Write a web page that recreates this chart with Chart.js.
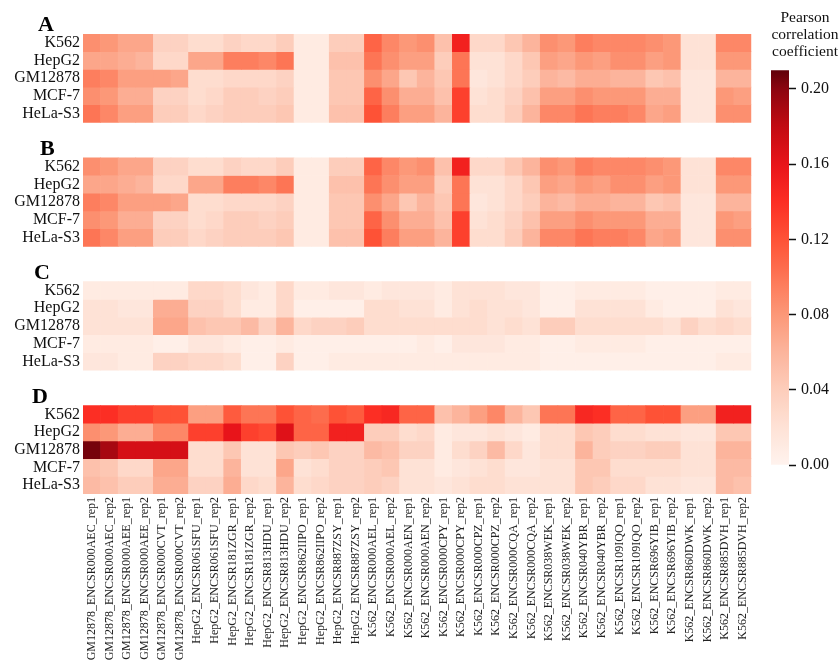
<!DOCTYPE html>
<html>
<head>
<meta charset="utf-8">
<script src="https://cdn.jsdelivr.net/npm/chart.js@4.4.1/dist/chart.umd.min.js"></script>
<style>
  html, body { margin: 0; padding: 0; background: #fff; width: 839px; height: 666px; overflow: hidden; }
  #heat { position: absolute; left: 0; top: 0; }
  #bar { position: absolute; left: 762px; top: 0; }
</style>
</head>
<body>
<canvas id="heat" width="760" height="666"></canvas>
<canvas id="bar" width="77" height="490"></canvas>
<script>
// ---- data ----
const columnLabels = [
  'GM12878_ENCSR000AEC_rep1', 'GM12878_ENCSR000AEC_rep2',
  'GM12878_ENCSR000AEE_rep1', 'GM12878_ENCSR000AEE_rep2',
  'GM12878_ENCSR000CVT_rep1', 'GM12878_ENCSR000CVT_rep2',
  'HepG2_ENCSR061SFU_rep1', 'HepG2_ENCSR061SFU_rep2',
  'HepG2_ENCSR181ZGR_rep1', 'HepG2_ENCSR181ZGR_rep2',
  'HepG2_ENCSR813HDU_rep1', 'HepG2_ENCSR813HDU_rep2',
  'HepG2_ENCSR862IIPO_rep1', 'HepG2_ENCSR862IIPO_rep2',
  'HepG2_ENCSR887ZSY_rep1', 'HepG2_ENCSR887ZSY_rep2',
  'K562_ENCSR000AEL_rep1', 'K562_ENCSR000AEL_rep2',
  'K562_ENCSR000AEN_rep1', 'K562_ENCSR000AEN_rep2',
  'K562_ENCSR000CPY_rep1', 'K562_ENCSR000CPY_rep2',
  'K562_ENCSR000CPZ_rep1', 'K562_ENCSR000CPZ_rep2',
  'K562_ENCSR000CQA_rep1', 'K562_ENCSR000CQA_rep2',
  'K562_ENCSR038WEK_rep1', 'K562_ENCSR038WEK_rep2',
  'K562_ENCSR040YBR_rep1', 'K562_ENCSR040YBR_rep2',
  'K562_ENCSR109IQO_rep1', 'K562_ENCSR109IQO_rep2',
  'K562_ENCSR696YIB_rep1', 'K562_ENCSR696YIB_rep2',
  'K562_ENCSR860DWK_rep1', 'K562_ENCSR860DWK_rep2',
  'K562_ENCSR885DVH_rep1', 'K562_ENCSR885DVH_rep2'
];
const rowLabels = ['K562', 'HepG2', 'GM12878', 'MCF-7', 'HeLa-S3'];
const panelLetters = ['A', 'B', 'C', 'D'];

// Pearson correlation per cell line (rows) and experiment (columns)
const panelA = [
  [.085,.08,.07,.07,.035,.035,.025,.025,.035,.03,.03,.04,.01,.01,.04,.04,.11,.09,.08,.085,.05,.15,.03,.03,.045,.06,.085,.08,.095,.09,.09,.09,.085,.08,.02,.02,.09,.09],
  [.07,.07,.065,.06,.03,.03,.07,.07,.095,.095,.09,.1,.01,.01,.05,.05,.1,.085,.075,.075,.04,.1,.02,.02,.03,.045,.075,.07,.08,.075,.085,.085,.075,.08,.02,.02,.08,.08],
  [.095,.09,.075,.075,.075,.07,.025,.025,.03,.03,.03,.035,.01,.01,.045,.045,.085,.07,.045,.06,.045,.1,.015,.02,.03,.04,.06,.055,.065,.065,.06,.06,.045,.05,.015,.015,.06,.06],
  [.085,.08,.065,.065,.035,.035,.025,.03,.04,.04,.035,.04,.01,.01,.045,.045,.11,.085,.065,.065,.05,.13,.02,.025,.035,.05,.075,.075,.085,.08,.08,.08,.065,.065,.015,.015,.08,.075],
  [.1,.09,.075,.075,.04,.04,.03,.035,.04,.04,.04,.045,.01,.01,.05,.05,.12,.095,.075,.075,.06,.13,.025,.025,.04,.06,.09,.09,.1,.095,.095,.09,.07,.075,.015,.015,.085,.085]
];
const panelB = [
  [.085,.08,.07,.07,.035,.035,.025,.025,.035,.03,.03,.04,.01,.01,.04,.04,.11,.09,.08,.085,.05,.15,.03,.03,.045,.06,.085,.08,.095,.09,.09,.09,.085,.08,.02,.02,.09,.09],
  [.07,.07,.065,.06,.03,.03,.07,.07,.095,.095,.09,.1,.01,.01,.05,.05,.1,.085,.075,.075,.04,.1,.02,.02,.03,.045,.075,.07,.08,.075,.085,.085,.075,.08,.02,.02,.08,.08],
  [.095,.09,.075,.075,.075,.07,.025,.025,.03,.03,.03,.035,.01,.01,.045,.045,.085,.07,.045,.06,.045,.1,.015,.02,.03,.04,.06,.055,.065,.065,.06,.06,.045,.05,.015,.015,.06,.06],
  [.085,.08,.065,.065,.035,.035,.025,.03,.04,.04,.035,.04,.01,.01,.045,.045,.11,.085,.065,.065,.05,.13,.02,.025,.035,.05,.075,.075,.085,.08,.08,.08,.065,.065,.015,.015,.08,.075],
  [.1,.09,.075,.075,.04,.04,.03,.035,.04,.04,.04,.045,.01,.01,.05,.05,.12,.095,.075,.075,.06,.13,.025,.025,.04,.06,.09,.09,.1,.095,.095,.09,.07,.075,.015,.015,.085,.085]
];
const panelC = [
  [.01,.01,.01,.01,.01,.01,.03,.03,.025,.015,.01,.03,.01,.01,.015,.015,.01,.015,.015,.015,.01,.02,.02,.02,.015,.015,.005,.005,.01,.01,.01,.01,.005,.005,.005,.005,.01,.01],
  [.02,.02,.015,.015,.065,.065,.035,.035,.025,.01,.01,.03,.005,.005,.005,.005,.025,.025,.02,.02,.01,.02,.025,.02,.02,.015,.005,.005,.02,.02,.02,.02,.01,.005,.005,.005,.02,.015],
  [.02,.02,.02,.02,.07,.07,.05,.045,.045,.055,.035,.06,.03,.035,.035,.04,.025,.025,.025,.025,.025,.025,.025,.02,.025,.02,.04,.04,.025,.025,.025,.025,.025,.02,.035,.025,.03,.025],
  [.01,.01,.01,.01,.005,.005,.015,.015,.01,.005,.005,.01,.005,.005,.005,.005,.005,.005,.005,.01,.005,.015,.015,.015,.01,.01,.005,.005,.01,.01,.01,.01,.005,.005,.005,.005,.005,.005],
  [.015,.015,.01,.01,.035,.035,.03,.03,.025,.005,.005,.035,.005,.005,.01,.01,.01,.01,.01,.01,.01,.01,.01,.01,.01,.01,.005,.005,.005,.005,.005,.005,.005,.005,.005,.005,.01,.01]
];
const panelD = [
  [.14,.14,.13,.13,.12,.12,.075,.075,.115,.1,.1,.12,.11,.105,.12,.115,.14,.145,.11,.11,.05,.06,.075,.09,.06,.045,.1,.1,.145,.14,.11,.11,.12,.12,.075,.075,.15,.15],
  [.085,.08,.065,.065,.09,.09,.13,.13,.16,.13,.125,.165,.11,.11,.15,.15,.04,.04,.025,.03,.01,.015,.015,.02,.015,.01,.025,.025,.045,.04,.025,.025,.02,.02,.015,.015,.045,.045],
  [.205,.19,.17,.17,.17,.17,.025,.025,.045,.02,.02,.045,.04,.045,.035,.035,.055,.05,.035,.035,.01,.025,.035,.055,.03,.015,.025,.025,.06,.04,.035,.035,.04,.04,.02,.02,.06,.06],
  [.05,.045,.03,.03,.07,.07,.025,.025,.06,.02,.02,.07,.02,.025,.035,.035,.04,.045,.02,.02,.01,.015,.02,.025,.015,.015,.02,.02,.045,.045,.025,.025,.025,.025,.02,.02,.055,.055],
  [.055,.05,.04,.04,.065,.065,.035,.035,.065,.03,.025,.06,.025,.03,.035,.035,.04,.035,.02,.02,.015,.02,.025,.025,.02,.02,.02,.02,.045,.04,.03,.03,.02,.02,.015,.015,.055,.05]
];

// colour scale
const colorbarTicks = [0, 0.04, 0.08, 0.12, 0.16, 0.20];
const colorbarMax = 0.21;
const cmapValues = [0, 0.02, 0.04, 0.06, 0.08, 0.10, 0.12, 0.14, 0.16, 0.18, 0.20, 0.21];
const cmapColors = ['#fff3ee', '#fee2d6', '#fdcdbb', '#fcb49c', '#fc9878', '#fd7555',
                    '#fe5236', '#fc2e24', '#e8141a', '#c20a12', '#8c0510', '#600008'];

// ---- helpers ----
const SERIF = "'Liberation Serif', 'Times New Roman', serif";
const PANEL_STEP = 7;          // five rows plus a two-row gap per panel
const TOTAL_ROWS = 26;

function hexToRgb(h) {
  return [parseInt(h.slice(1, 3), 16), parseInt(h.slice(3, 5), 16), parseInt(h.slice(5, 7), 16)];
}
const cmapRgb = cmapColors.map(hexToRgb);

function colorFor(v) {
  if (v <= cmapValues[0]) return cmapColors[0];
  for (let i = 1; i < cmapValues.length; i++) {
    if (v <= cmapValues[i]) {
      const t = (v - cmapValues[i - 1]) / (cmapValues[i] - cmapValues[i - 1]);
      const a = cmapRgb[i - 1], b = cmapRgb[i];
      const c = a.map((x, k) => Math.round(x + (b[k] - x) * t));
      return `rgb(${c[0]},${c[1]},${c[2]})`;
    }
  }
  return cmapColors[cmapColors.length - 1];
}

// ---- heatmap ----
const panels = [panelA, panelB, panelC, panelD];
const datasets = [];
panels.forEach((panel, p) => {
  panel.forEach((row, r) => {
    const y0 = p * PANEL_STEP + r;
    datasets.push({
      label: panelLetters[p] + ' ' + rowLabels[r],
      data: row.map(() => [y0, y0 + 1]),
      backgroundColor: row.map(colorFor),
      borderWidth: 0,
      grouped: false,
      barPercentage: 1,
      categoryPercentage: 1
    });
  });
});

const letterX = [38, 40, 34, 32];
const panelLetterPlugin = {
  id: 'panelLetters',
  afterDraw(chart) {
    const { ctx } = chart;
    const y = chart.scales.y;
    ctx.save();
    ctx.font = 'bold 22px ' + SERIF;
    ctx.fillStyle = '#000';
    ctx.textBaseline = 'alphabetic';
    ctx.textAlign = 'left';
    panelLetters.forEach((t, p) => {
      ctx.fillText(t, letterX[p], y.getPixelForValue(p * PANEL_STEP) - 3);
    });
    ctx.restore();
  }
};

const rowCenters = [];
for (let p = 0; p < panels.length; p++)
  for (let r = 0; r < rowLabels.length; r++) rowCenters.push(p * PANEL_STEP + r + 0.5);

new Chart(document.getElementById('heat'), {
  type: 'bar',
  data: { labels: columnLabels, datasets },
  plugins: [panelLetterPlugin],
  options: {
    responsive: false,
    animation: false,
    layout: { padding: { top: 34, right: 4, left: 0, bottom: 0 } },
    plugins: { legend: { display: false }, tooltip: { enabled: false } },
    scales: {
      x: {
        type: 'category',
        grid: { display: false, drawTicks: false },
        border: { display: false },
        afterFit: s => { s.height = 172; },
        ticks: {
          autoSkip: false, minRotation: 90, maxRotation: 90, padding: 3,
          color: '#222', font: { family: SERIF, size: 12 }
        }
      },
      y: {
        type: 'linear', min: 0, max: TOTAL_ROWS, reverse: true,
        grid: { display: false, drawTicks: false },
        border: { display: false },
        afterFit: s => { s.width = 83; },
        afterBuildTicks: s => { s.ticks = rowCenters.map(v => ({ value: v })); },
        ticks: {
          autoSkip: false, padding: 3, color: '#111',
          font: { family: SERIF, size: 16 },
          callback: v => rowLabels[Math.floor(v % PANEL_STEP)]
        }
      }
    }
  }
});

// ---- colour bar ----
new Chart(document.getElementById('bar'), {
  type: 'bar',
  data: {
    labels: [''],
    datasets: [{
      data: [[0, colorbarMax]],
      borderWidth: 0,
      barPercentage: 1,
      categoryPercentage: 1,
      backgroundColor(ctx) {
        const chart = ctx.chart;
        if (!chart.chartArea) return colorFor(colorbarMax / 2);
        const y = chart.scales.y;
        const g = chart.ctx.createLinearGradient(0, y.getPixelForValue(0), 0, y.getPixelForValue(colorbarMax));
        const n = 60;
        for (let i = 0; i <= n; i++) g.addColorStop(i / n, colorFor(colorbarMax * i / n));
        return g;
      }
    }]
  },
  options: {
    responsive: false,
    animation: false,
    layout: { padding: { left: 9, right: 0, top: 0, bottom: 25 } },
    plugins: {
      legend: { display: false },
      tooltip: { enabled: false },
      title: {
        display: true,
        text: ['Pearson', 'correlation', 'coefficient'],
        color: '#111',
        font: { family: SERIF, size: 15.5, weight: 'normal', lineHeight: 1.1 },
        padding: { top: 9, bottom: 10 }
      }
    },
    scales: {
      x: { display: false },
      y: {
        position: 'right', min: 0, max: colorbarMax,
        afterBuildTicks: s => { s.ticks = colorbarTicks.map(v => ({ value: v })); },
        afterFit: s => { s.width = 50; },
        grid: { drawOnChartArea: false, drawTicks: true, tickLength: 7, tickColor: '#111', tickWidth: 1.5 },
        border: { display: false },
        ticks: {
          padding: 5, color: '#111',
          font: { family: SERIF, size: 16 },
          callback: v => v.toFixed(2)
        }
      }
    }
  }
});
</script>
</body>
</html>
